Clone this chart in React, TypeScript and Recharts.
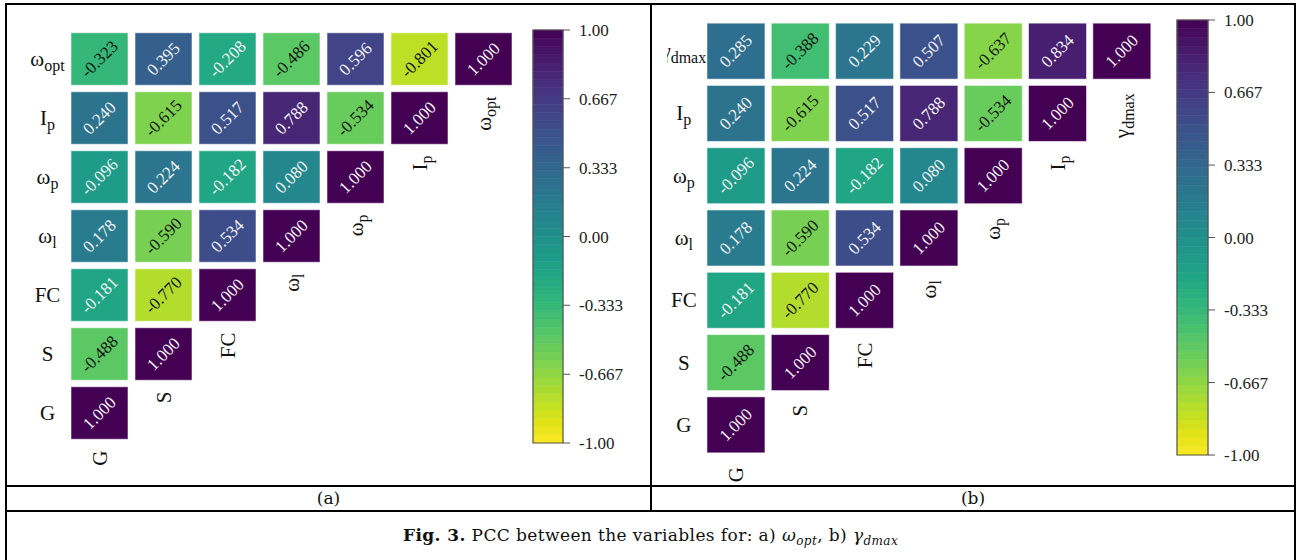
import React from "react";
import { ScatterChart, Scatter, XAxis, YAxis, ReferenceArea } from "recharts";

// ---------- data ----------
// columns (left to right) shared by both panels; last column is the target
const COLS_SHARED = ["G", "S", "FC", "ω_l", "ω_p", "I_p"];
const TARGET_A = "ω_opt";
const TARGET_B = "γ_dmax";

// rows (top to bottom). values listed for columns G, S, FC, ω_l, ω_p, I_p, target
const ROW_OMEGA_OPT = [-0.323, 0.395, -0.208, -0.486, 0.596, -0.801, 1.0];
const ROW_GAMMA_DMAX = [0.285, -0.388, 0.229, 0.507, -0.637, 0.834, 1.0];
const ROW_IP = [0.24, -0.615, 0.517, 0.788, -0.534, 1.0];
const ROW_OMEGA_P = [-0.096, 0.224, -0.182, 0.08, 1.0];
const ROW_OMEGA_L = [0.178, -0.59, 0.534, 1.0];
const ROW_FC = [-0.181, -0.77, 1.0];
const ROW_S = [-0.488, 1.0];
const ROW_G = [1.0];

const COLORBAR_TICKS = [1, 0.667, 0.333, 0, -0.333, -0.667, -1];
const COLORBAR_LABELS = ["1.00", "0.667", "0.333", "0.00", "-0.333", "-0.667", "-1.00"];

// viridis colormap stops (every 0.05)
const VIRIDIS = [
  "#440154", "#471365", "#482475", "#463480", "#414487", "#3b528b", "#355f8d",
  "#2f6c8e", "#2a788e", "#25848e", "#21918c", "#1e9c89", "#22a884", "#2fb47c",
  "#44bf70", "#5ec962", "#7ad151", "#9bd93c", "#bddf26", "#dfe318", "#fde725",
];

const FONT = "'Liberation Serif', 'Times New Roman', serif";
const LABEL_SIZE = 21;
const SUB_SIZE = 16;

function hexToRgb(h: string) {
  return [parseInt(h.slice(1, 3), 16), parseInt(h.slice(3, 5), 16), parseInt(h.slice(5, 7), 16)];
}
function viridis(t: number) {
  const c = Math.max(0, Math.min(1, t)) * (VIRIDIS.length - 1);
  const i = Math.min(Math.floor(c), VIRIDIS.length - 2);
  const f = c - i;
  const a = hexToRgb(VIRIDIS[i]);
  const b = hexToRgb(VIRIDIS[i + 1]);
  const m = a.map((v, k) => Math.round(v + (b[k] - v) * f));
  return `rgb(${m[0]},${m[1]},${m[2]})`;
}
// reversed viridis: +1 -> purple, -1 -> yellow
const colorFor = (v: number) => viridis((1 - v) / 2);

function splitLabel(s: string) {
  const k = s.indexOf("_");
  return k < 0 ? { main: s, sub: "" } : { main: s.slice(0, k), sub: s.slice(k + 1) };
}

function buildCells(rows: number[][]) {
  const out: { x: number; y: number; v: number }[] = [];
  rows.forEach((vals, r) => vals.forEach((v, j) => out.push({ x: j, y: r, v })));
  return out;
}

type HeatCfg = {
  left: number;
  width: number;
  height: number;
  margin: { top: number; right: number; bottom: number; left: number };
  yAxisWidth: number;
  cellW: number;
  cellH: number;
  pitchY: number;
  yLabelOffset: number;
  xLabelGap: number;
};

function Heatmap({ rows, cols, cfg }: { rows: number[][]; cols: string[]; cfg: HeatCfg }) {
  const n = cols.length;
  const cells = buildCells(rows);
  const rowLabels = [...cols].reverse();
  const xLabelPts = cols.map((name, j) => ({ x: j, y: n - 1 - j, name }));

  const CellShape = (p: any) => {
    const { cx, cy, payload } = p;
    const v = payload.v as number;
    const dark = (1 - v) / 2 < 0.63;
    return (
      <g>
        <rect
          x={cx - cfg.cellW / 2}
          y={cy - cfg.cellH / 2}
          width={cfg.cellW}
          height={cfg.cellH}
          fill={colorFor(v)}
          stroke="rgba(255,255,255,0.55)"
          strokeWidth={1}
        />
        <text
          x={cx}
          y={cy + 5.5}
          transform={`rotate(-45 ${cx} ${cy})`}
          textAnchor="middle"
          fontFamily={FONT}
          fontSize={17}
          fill={dark ? "#f4f4f4" : "#111"}
        >
          {v.toFixed(3)}
        </text>
      </g>
    );
  };

  const XLabelShape = (p: any) => {
    const { cx, cy, payload } = p;
    const { main, sub } = splitLabel(payload.name);
    const px = cx;
    const py = cy + cfg.pitchY / 2 + cfg.xLabelGap;
    return (
      <text
        x={px}
        y={py + 7}
        transform={`rotate(-90 ${px} ${py})`}
        textAnchor="end"
        fontFamily={FONT}
        fontSize={LABEL_SIZE}
        fill="#111"
      >
        {main}
        {sub ? (
          <tspan dy={5} fontSize={SUB_SIZE}>
            {sub}
          </tspan>
        ) : null}
      </text>
    );
  };

  const YTick = (p: any) => {
    const { x, y, payload } = p;
    const lab = rowLabels[payload.value];
    if (lab === undefined) return <g />;
    const { main, sub } = splitLabel(lab);
    return (
      <text x={x - cfg.yLabelOffset} y={y + 7} textAnchor="middle" fontFamily={FONT} fontSize={LABEL_SIZE} fill="#111">
        {main}
        {sub ? (
          <tspan dy={5} fontSize={SUB_SIZE}>
            {sub}
          </tspan>
        ) : null}
      </text>
    );
  };

  return (
    <div style={{ position: "absolute", left: cfg.left, top: 0, width: cfg.width, height: cfg.height }}>
      <ScatterChart width={cfg.width} height={cfg.height} margin={cfg.margin}>
        <XAxis type="number" dataKey="x" domain={[-0.5, n - 0.5]} hide />
        <YAxis
          type="number"
          dataKey="y"
          domain={[-0.5, n - 0.5]}
          reversed
          ticks={rowLabels.map((_, i) => i)}
          interval={0}
          width={cfg.yAxisWidth}
          axisLine={false}
          tickLine={false}
          tickSize={0}
          tickMargin={0}
          tick={YTick}
        />
        <Scatter data={cells} shape={CellShape} isAnimationActive={false} />
        <Scatter data={xLabelPts} shape={XLabelShape} isAnimationActive={false} />
      </ScatterChart>
    </div>
  );
}

type BarCfg = {
  left: number;
  width: number;
  height: number;
  margin: { top: number; right: number; bottom: number; left: number };
};

const N_BANDS = 50;
const BANDS = Array.from({ length: N_BANDS }, (_, i) => {
  const y1 = -1 + (2 * i) / N_BANDS;
  const y2 = -1 + (2 * (i + 1)) / N_BANDS;
  return { y1, y2, color: colorFor((y1 + y2) / 2) };
});

function Colorbar({ cfg }: { cfg: BarCfg }) {
  return (
    <div style={{ position: "absolute", left: cfg.left, top: 0, width: cfg.width, height: cfg.height }}>
      <ScatterChart width={cfg.width} height={cfg.height} margin={cfg.margin}>
        <XAxis type="number" dataKey="x" domain={[0, 1]} hide />
        <YAxis
          type="number"
          dataKey="y"
          orientation="right"
          domain={[-1, 1]}
          ticks={COLORBAR_TICKS}
          interval={0}
          width={60}
          axisLine={false}
          tickSize={7}
          tickMargin={9}
          tickLine={{ stroke: "#555", strokeWidth: 1 }}
          tick={{ fontFamily: FONT, fontSize: 17, fill: "#222" }}
          tickFormatter={(v: number) => COLORBAR_LABELS[COLORBAR_TICKS.indexOf(v)] ?? String(v)}
        />
        {BANDS.map((b, i) => (
          <ReferenceArea
            key={i}
            x1={0}
            x2={1}
            y1={b.y1}
            y2={b.y2}
            fill={b.color}
            fillOpacity={1}
            stroke={b.color}
            strokeWidth={0.6}
          />
        ))}
        <ReferenceArea x1={0} x2={1} y1={-1} y2={1} fill="none" fillOpacity={0} stroke="#555" strokeWidth={1.2} />
        <Scatter data={[{ x: 0.5, y: 0 }]} shape={() => <g />} isAnimationActive={false} />
      </ScatterChart>
    </div>
  );
}

const CFG_A: HeatCfg = {
  left: 0,
  width: 650,
  height: 485,
  margin: { top: 29.5, right: 134.5, bottom: 42.5, left: 7.5 },
  yAxisWidth: 60,
  cellW: 57,
  cellH: 52.5,
  pitchY: 59,
  yLabelOffset: 20,
  xLabelGap: 8,
};
const CFG_B: HeatCfg = {
  left: 667,
  width: 629,
  height: 485,
  margin: { top: 20, right: 142, bottom: 29, left: 6.8 },
  yAxisWidth: 30,
  cellW: 58,
  cellH: 56,
  pitchY: 62.3,
  yLabelOffset: 20,
  xLabelGap: 11,
};
const BAR_A: BarCfg = { left: 520, width: 110, height: 485, margin: { top: 30, right: 7, bottom: 42, left: 13 } };
const BAR_B: BarCfg = { left: 1160, width: 120, height: 485, margin: { top: 20, right: 12, bottom: 30, left: 17 } };

const line = (l: number, t: number, w: number, h: number): React.CSSProperties => ({
  position: "absolute",
  left: l,
  top: t,
  width: w,
  height: h,
  background: "#000",
});

export default function App() {
  const colsA = [...COLS_SHARED, TARGET_A];
  const colsB = [...COLS_SHARED, TARGET_B];
  const shared = [ROW_IP, ROW_OMEGA_P, ROW_OMEGA_L, ROW_FC, ROW_S, ROW_G];
  const rowsA = [ROW_OMEGA_OPT, ...shared];
  const rowsB = [ROW_GAMMA_DMAX, ...shared];
  const capFont = "'DejaVu Serif', 'Liberation Serif', serif";
  return (
    <div style={{ position: "absolute", left: 0, top: 0, width: 1296, height: 560, background: "#fff", overflow: "hidden" }}>
      <Heatmap rows={rowsA} cols={colsA} cfg={CFG_A} />
      <Colorbar cfg={BAR_A} />
      <Heatmap rows={rowsB} cols={colsB} cfg={CFG_B} />
      <Colorbar cfg={BAR_B} />

      {/* table borders */}
      <div style={line(5, 3, 1291, 2)} />
      <div style={line(5, 3, 2, 557)} />
      <div style={line(1294, 3, 2, 557)} />
      <div style={line(650, 3, 2, 509)} />
      <div style={line(5, 485, 1291, 2)} />
      <div style={line(5, 510, 1291, 2)} />

      <div style={{ position: "absolute", left: 7, top: 487, width: 643, height: 23, lineHeight: "23px", textAlign: "center", fontFamily: capFont, fontSize: 17, color: "#111" }}>
        (a)
      </div>
      <div style={{ position: "absolute", left: 652, top: 487, width: 642, height: 23, lineHeight: "23px", textAlign: "center", fontFamily: capFont, fontSize: 17, color: "#111" }}>
        (b)
      </div>
      <div style={{ position: "absolute", left: 7, top: 512, width: 1287, height: 46, lineHeight: "46px", textAlign: "center", fontFamily: capFont, fontSize: 17, letterSpacing: 0.4, color: "#111" }}>
        <b>Fig. 3.</b> PCC between the variables for: a) <i>ω</i>
        <sub style={{ fontSize: 12 }}>
          <i>opt</i>
        </sub>
        , b) <i>γ</i>
        <sub style={{ fontSize: 12 }}>
          <i>dmax</i>
        </sub>
      </div>
    </div>
  );
}
